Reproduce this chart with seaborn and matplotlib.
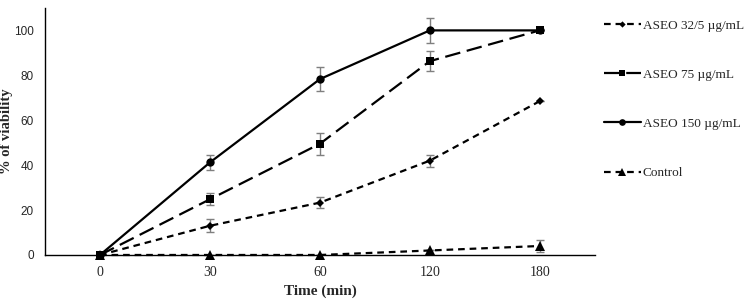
import numpy as np
import pandas as pd
import matplotlib
matplotlib.use("Agg")
import matplotlib.pyplot as plt
import seaborn as sns

# values
times = ["0", "30", "60", "120", "180"]
aseo_32 = [0, 13, 23.3, 42, 68.5]
aseo_32_err = [0, 2.8, 2.6, 2.7, 0]
aseo_75 = [0, 24.8, 49.5, 86.3, 100]
aseo_75_err = [0, 2.6, 5.0, 4.4, 0]
aseo_150 = [0, 41.2, 78.3, 100, 100]
aseo_150_err = [0, 3.2, 5.3, 5.5, 0]
control = [0, 0, 0, 2, 4]
control_err = [0, 0, 0, 0, 2.7]

labels = ["ASEO 32/5 µg/mL", "ASEO 75 µg/mL", "ASEO 150 µg/mL", "Control"]
series = [aseo_32, aseo_75, aseo_150, control]
errors = [aseo_32_err, aseo_75_err, aseo_150_err, control_err]
styles = [
    dict(marker="D", ms=4, dashes=(3, 2.2)),
    dict(marker="s", ms=6, dashes=(7, 3)),
    dict(marker="o", ms=6, dashes=()),
    dict(marker="^", ms=7, dashes=(3, 2.2)),
]

sns.set_style("white")
plt.rcParams["font.family"] = ["Liberation Serif", "DejaVu Serif"]

fig = plt.figure(figsize=(7.5, 3.05), dpi=100)
ax = fig.add_axes([0.06, 0.164, 0.733, 0.81])

xpos = np.arange(len(times))
rows = []
for lab, vals in zip(labels, series):
    for i, v in enumerate(vals):
        rows.append({"x": xpos[i], "y": v, "series": lab})
df = pd.DataFrame(rows)

handles = []
for lab, vals, err, st in zip(labels, series, errors, styles):
    sub = df[df["series"] == lab]
    ax.errorbar(sub["x"], sub["y"], yerr=err, fmt="none", ecolor="#7f7f7f",
                elinewidth=1, capsize=3, capthick=1, zorder=2)
    sns.lineplot(data=sub, x="x", y="y", ax=ax, color="black", lw=1.6,
                 marker=st["marker"], markersize=st["ms"], markeredgewidth=0,
                 dashes=False, legend=False, zorder=3)
    line = ax.get_lines()[-1]
    line.set_clip_on(False)
    if st["dashes"]:
        line.set_dashes(st["dashes"])
    handles.append(plt.Line2D([], [], color="black", lw=1.6, marker=st["marker"],
                              markersize=st["ms"] * 0.8, markeredgewidth=0,
                              dashes=st["dashes"] if st["dashes"] else (None, None),
                              linestyle="--" if st["dashes"] else "-"))

ax.set_xlim(-0.5, 4.5)
ax.set_ylim(0, 110)
ax.set_xticks(xpos)
ax.set_xticklabels(times, fontsize=10)
ax.set_yticks([0, 20, 40, 60, 80, 100])
ax.set_yticklabels(["0", "20", "40", "60", "80", "100"], fontsize=8.5,
                   family="Liberation Sans")
ax.tick_params(length=0, pad=8)
ax.tick_params(axis="y", pad=8)
for s in ["top", "right"]:
    ax.spines[s].set_visible(False)
for s in ["left", "bottom"]:
    ax.spines[s].set_color("black")
    ax.spines[s].set_linewidth(1)

ax.set_xlabel("Time (min)", fontsize=11, fontweight="bold", labelpad=4)
ax.set_ylabel("% of viability", fontsize=10.5, fontweight="bold")
ax.yaxis.set_label_coords(-0.058, 0.5)

fig.legend(handles, labels, loc="upper left", bbox_to_anchor=(0.805, 0.936),
           frameon=False, fontsize=9.5, handlelength=2.8, handletextpad=0.15,
           labelspacing=2.8, borderpad=0, borderaxespad=0)

fig.savefig("out.png", dpi=100)
